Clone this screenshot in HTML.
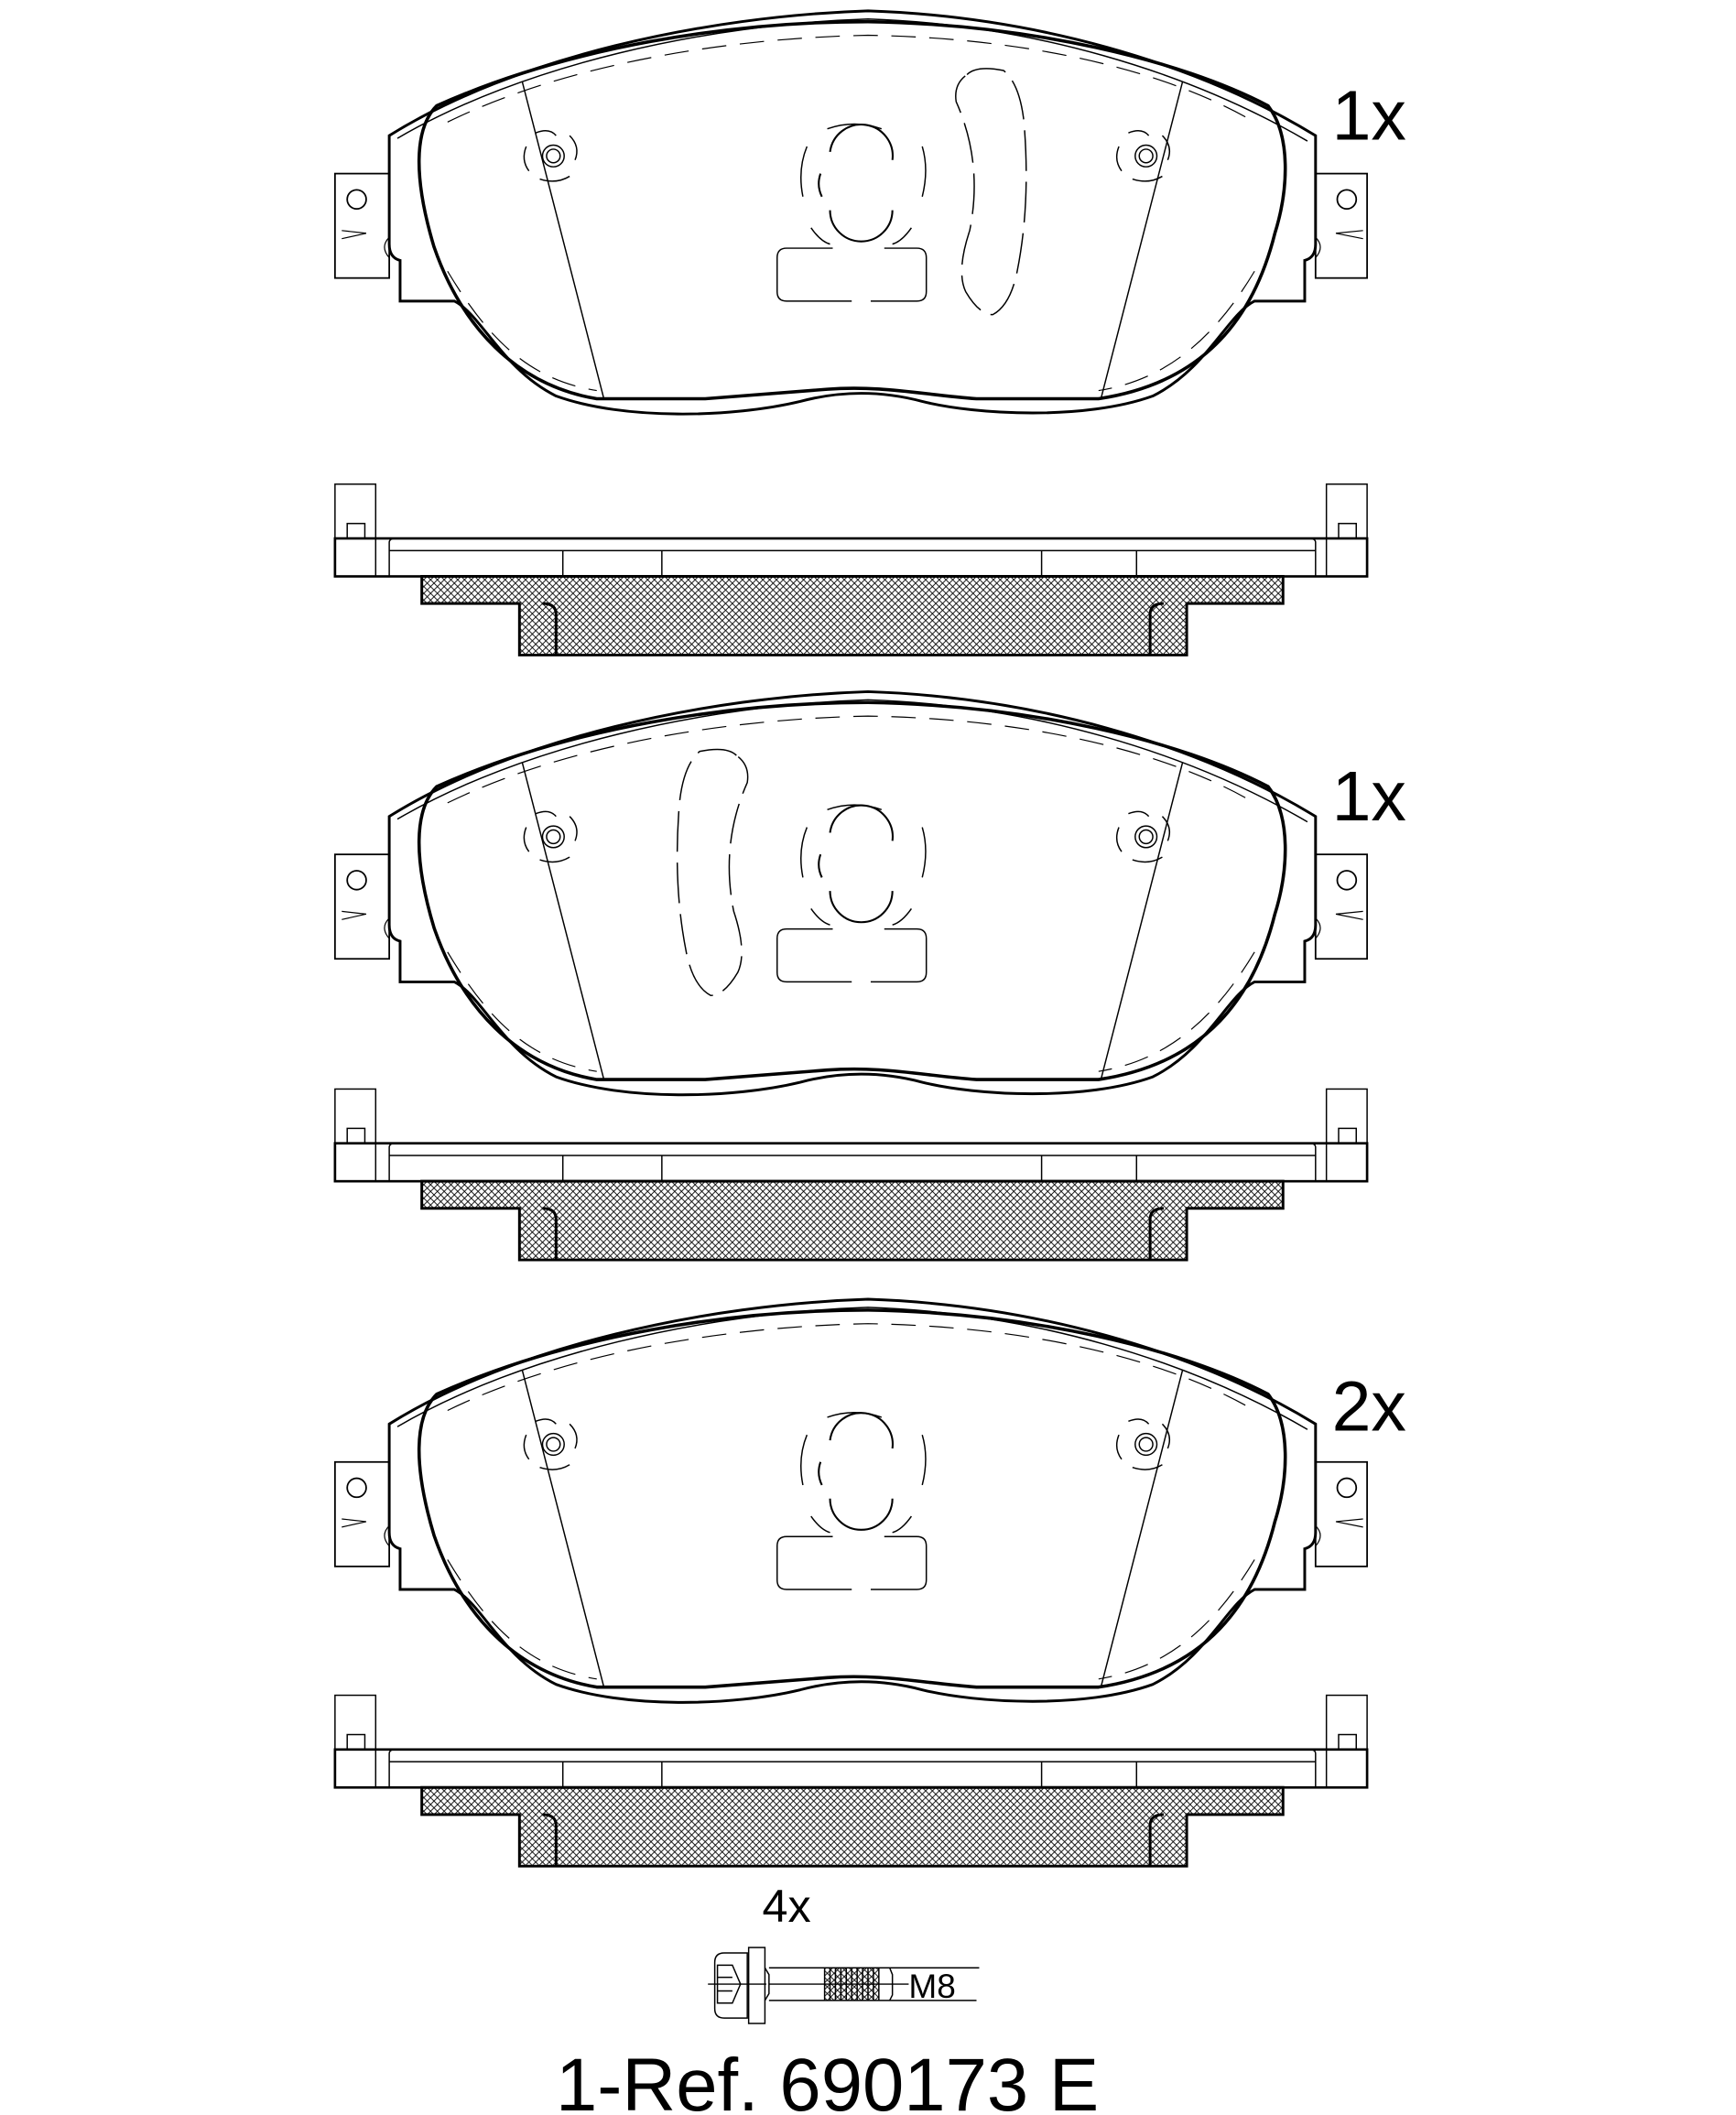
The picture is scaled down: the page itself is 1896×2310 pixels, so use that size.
<!DOCTYPE html>
<html><head><meta charset="utf-8"><style>html,body{margin:0;padding:0;background:#fff}svg{display:block}</style></head>
<body>
<svg width="1896" height="2310" viewBox="0 0 1280 1559.5" xmlns="http://www.w3.org/2000/svg" font-family="Liberation Sans, sans-serif">
<defs>
<pattern id="h" width="5" height="5" patternUnits="userSpaceOnUse">
<path d="M0,0 L5,5 M5,0 L0,5" stroke="#000" stroke-width="0.6"/>
</pattern>
<g id="pad" fill="none" stroke="#000">
<path stroke-width="2" d="M287,128 L287,100 C380,42 520,12 640,8 C760,12 880,45 970,100 L970,128 L970,180 Q970,190 962,192 L962,222 L925,222 C905,232 890,272 850,292 C800,310 720,306 680,296 C650,288 620,288 590,296 C540,308 460,310 410,292 C370,272 355,232 335,222 L295,222 L295,192 Q287,190 287,180 Z"/>
<path stroke-width="1" d="M293,102 C385,48 520,18 640,14 C760,18 875,52 964,104"/>
<path stroke-width="2.4" d="M322,78 C420,34 540,16 640,16 C760,18 870,44 935,78 C952,100 950,140 940,172 C925,232 890,282 810,294 L720,294 C680,291 650,284 610,287 L520,294 L440,294 C380,284 340,240 320,182 C305,132 305,95 322,78 Z"/>
<path stroke-width="0.8" stroke-dasharray="18,10" d="M330,90 C420,46 540,28 640,26 C760,28 860,52 925,90 M330,200 C360,250 390,280 440,288 M925,200 C895,250 860,280 810,288"/>
<path stroke-width="1" d="M385,60 L445,293 M872,60 L812,293"/>
<rect x="247" y="128" width="40" height="77" stroke-width="1.2"/>
<circle cx="263" cy="147" r="7" stroke-width="1.2"/>
<path stroke-width="0.8" d="M252,170 L270,172 L252,176 M287,175 Q280,182 287,190"/>
<rect x="970" y="128" width="38" height="77" stroke-width="1.2"/>
<circle cx="993" cy="147" r="7" stroke-width="1.2"/>
<path stroke-width="0.8" d="M1005,170 L985,172 L1005,176 M970,175 Q977,182 970,190"/>
<g stroke-width="1">
<circle cx="408" cy="115" r="8"/><circle cx="408" cy="115" r="5"/>
<path d="M395,98 Q405,94 410,100 M420,100 Q428,108 424,118 M398,132 Q410,136 420,130 M388,108 Q384,118 390,126"/>
<circle cx="845" cy="115" r="8"/><circle cx="845" cy="115" r="5"/>
<path d="M832,98 Q842,94 847,100 M857,100 Q865,108 861,118 M835,132 Q847,136 857,130 M825,108 Q821,118 827,126"/>
<path stroke-width="1.4" d="M612,112 A22,22 0 0 1 658,118 M612,155 A22,22 0 0 0 658,155 M605,128 A22,22 0 0 0 606,145"/>
<path d="M595,108 Q588,125 592,145 M680,108 Q685,125 680,145 M610,95 Q630,88 650,95 M598,168 Q605,178 612,180 M672,168 Q665,178 658,180"/>
<path d="M628,222 L580,222 Q573,222 573,215 L573,190 Q573,183 580,183 L614,183 M652,183 L676,183 Q683,183 683,190 L683,215 Q683,222 676,222 L642,222"/>
</g>
</g>
<g id="side" fill="none" stroke="#000">
<rect x="247" y="357" width="30" height="40" stroke-width="1"/>
<rect x="978" y="357" width="30" height="40" stroke-width="1"/>
<rect x="256" y="386" width="13" height="11" stroke-width="1"/>
<rect x="987" y="386" width="13" height="11" stroke-width="1"/>
<rect x="247" y="397" width="761" height="28" stroke-width="1.8"/>
<path stroke-width="1" d="M277,397 L277,425 M978,397 L978,425 M287,425 L287,400 Q287,397 292,397 L965,397 Q970,397 970,400 L970,425 M287,406 L970,406 M488,406 L488,425 M768,406 L768,425 M415,406 L415,425 M838,406 L838,425 M604,397 L636,397"/>
<path stroke-width="2" fill="url(#h)" d="M311,425 L946,425 L946,445 L875,445 L875,483 L383,483 L383,445 L311,445 Z"/>
<path stroke-width="2" d="M410,483 L410,453 Q410,445 400,445 M848,483 L848,453 Q848,445 858,445"/>
</g>
</defs>
<use href="#pad"/>
<use href="#pad" y="502"/>
<use href="#pad" y="950"/>
<path fill="none" stroke="#000" stroke-width="1" d="M713,55 Q720,48 740,52 Q752,62 755,90 Q760,150 750,200 Q745,225 732,232 Q722,232 712,215 Q705,200 715,170 Q725,120 705,75 Q703,62 713,55 Z" stroke-dasharray="30,8"/>
<path fill="none" stroke="#000" stroke-width="1" d="M543,557 Q536,550 516,554 Q504,564 501,592 Q496,652 506,702 Q511,727 524,734 Q534,734 544,717 Q551,702 541,672 Q531,622 551,577 Q553,564 543,557 Z" stroke-dasharray="30,8"/>
<use href="#side"/>
<use href="#side" y="446"/>
<use href="#side" y="893"/>
<g font-size="52" fill="#000">
<text x="982" y="103">1x</text>
<text x="982" y="605">1x</text>
<text x="982" y="1055">2x</text>
</g>
<g fill="none" stroke="#000" stroke-width="1">
<path d="M534,1440 Q527,1440 527,1447 L527,1481 Q527,1488 534,1488 L551,1488 L551,1440 Z M522,1463 L565,1463"/>
<path d="M529,1449 L540,1449 L546,1463 L540,1477 L529,1477 Z M529,1468 L540,1468 M529,1458 L540,1458"/>
<rect x="552" y="1436" width="12" height="56"/>
<path d="M564,1451 L567,1456 L567,1470 L564,1475 M567,1451 L722,1451 M567,1475 L720,1475 M567,1463 L670,1463 M648,1451 L648,1475 M656,1451 L658,1456 L658,1471 L656,1475"/>
<rect x="608" y="1451" width="40" height="24" fill="url(#h)" stroke="none"/>
<path d="M608,1451 L608,1475 M612,1451 L612,1475 M616,1451 L616,1475 M620,1451 L620,1475 M624,1451 L624,1475 M628,1451 L628,1475 M632,1451 L632,1475 M636,1451 L636,1475 M640,1451 L640,1475 M644,1451 L644,1475"/>
</g>
<text x="562" y="1417" font-size="34">4x</text>
<text x="670" y="1473" font-size="25">M8</text>
<text x="610" y="1556" font-size="55" text-anchor="middle">1-Ref. 690173 E</text>
</svg>
</body></html>
